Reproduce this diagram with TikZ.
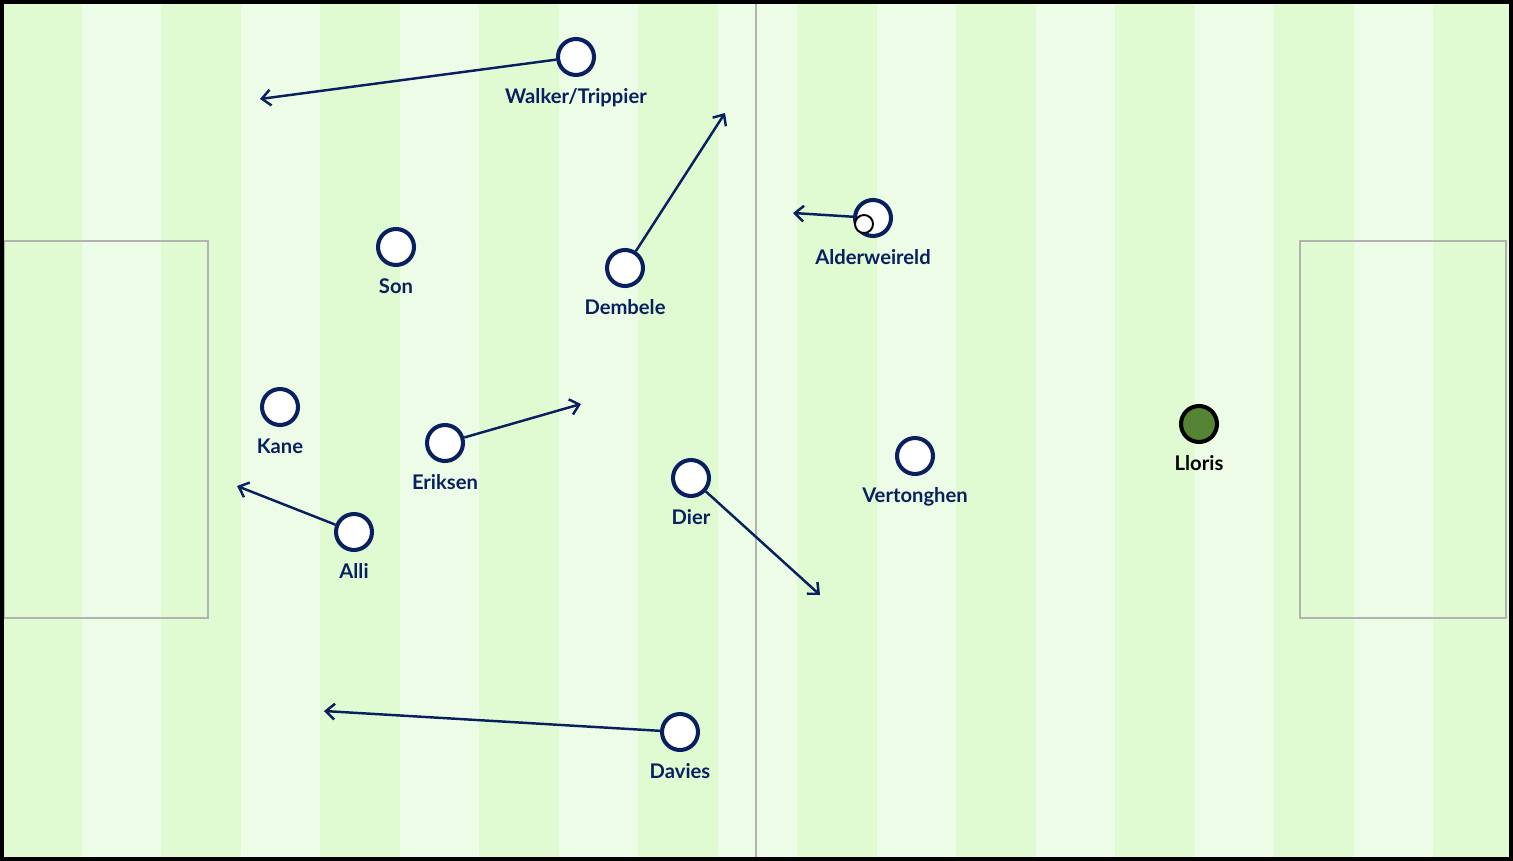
\documentclass[tikz,border=0pt]{standalone}
\usepackage{fontspec}
\setmainfont{Lato}
\usetikzlibrary{positioning,
				arrows.meta,
				calc}
\definecolor{navy}{RGB}{8,32,96}
\definecolor{stripeA}{RGB}{224,250,210}
\definecolor{stripeB}{RGB}{237,252,230}
\definecolor{keeper}{RGB}{84,132,52}
\tikzset{
	player/.style={circle, draw=navy, line width=2.3pt, fill=white, minimum size=0.72cm, inner sep=0pt,
		label={[navy, font=\bfseries\fontsize{11.5}{13}\selectfont, label distance=3pt]below:#1}},
	keeperdot/.style={circle, draw=black, line width=2.3pt, fill=keeper, minimum size=0.72cm, inner sep=0pt,
		label={[black, font=\bfseries\fontsize{11.5}{13}\selectfont, label distance=3pt]below:#1}},
	run/.style={draw=navy, line width=1.4pt, -{Straight Barb[length=5pt, width=9pt, line width=1.4pt]}},
	box/.style={draw=black!30, line width=0.8pt}
}
\begin{document}
\begin{tikzpicture}[x=0.02cm, y=-0.02cm]
	\useasboundingbox (0,0) rectangle (1513,861);
	% pitch stripes
	\foreach \i in {0,...,18}{
		\pgfmathsetmacro{\xa}{2+\i*79.5}
		\ifodd\i \fill[stripeB] (\xa,2) rectangle ++(79.5,857);
		\else \fill[stripeA] (\xa,2) rectangle ++(79.5,857); \fi
	}
	\draw[box] (756,2) -- (756,859);
	\draw[box] (4,241) rectangle (208,618);
	\draw[box] (1300,241) rectangle (1506,618);
	\draw[black, line width=2.3pt] (2,2) rectangle (1511,859);
	% players
	\foreach \name/\x/\y/\txt in {wt/576/57/Walker\slash Trippier, son/396/247/Son, dem/625/268/Dembele,
		ald/873/218/Alderweireld, kane/280/407/Kane, eri/445/443/Eriksen, dier/691/478/Dier,
		vert/915/456/Vertonghen, alli/354/532/Alli, dav/680/732/Davies}
		\node[player=\txt] (\name) at (\x,\y) {};
	\node[keeperdot=Lloris] (lloris) at (1199,424) {};
	\draw[black, line width=1.1pt, fill=white] (864,224) circle (9);
	% runs
	\foreach \from/\x/\y in {wt/260/99, dem/725/113, ald/793/213, eri/581/404, dier/820/595, alli/237/486, dav/324/711}{
		\coordinate (\from-to) at (\x,\y);
		\draw[run] (\from) -- (\from-to);
	}
\end{tikzpicture}
\end{document}
